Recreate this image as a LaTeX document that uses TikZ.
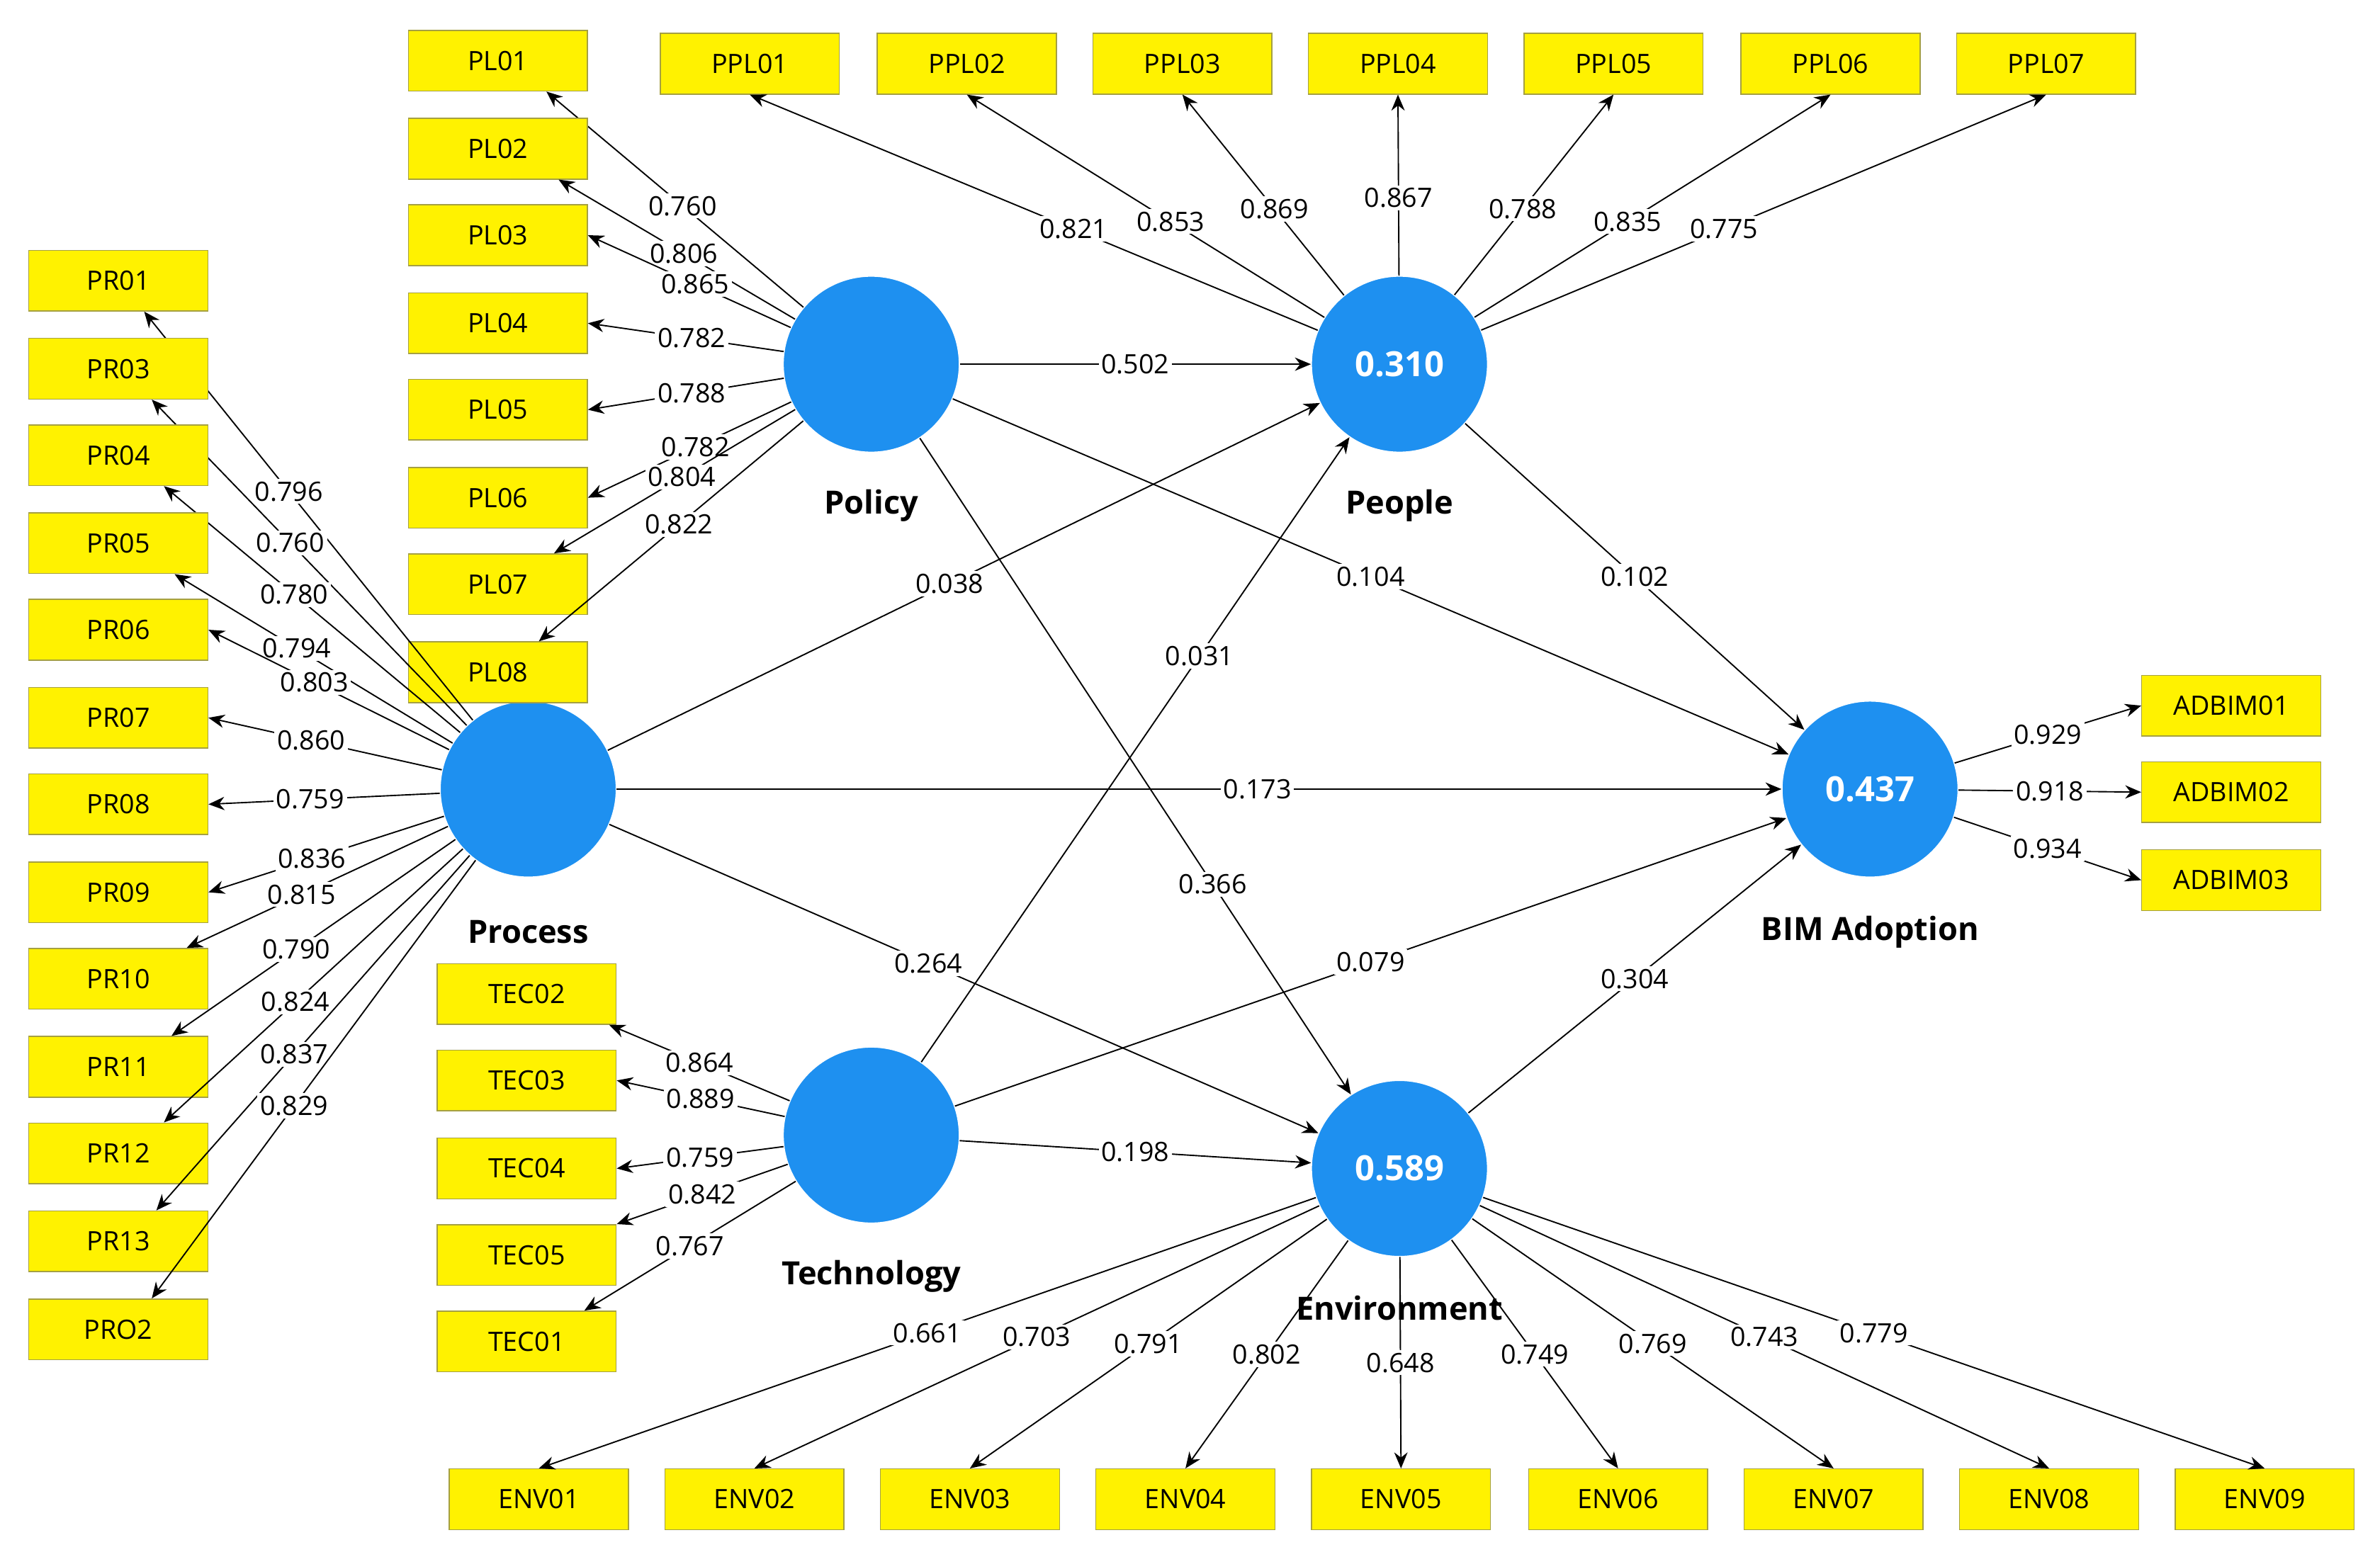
\documentclass[tikz,border=0pt]{standalone}
\usepackage{fontspec}
\setmainfont{Open Sans}
\usetikzlibrary{arrows.meta}
\definecolor{lblue}{HTML}{1E90F0}
\begin{document}
\begin{tikzpicture}[x=0.02cm,y=-0.02cm,
 box/.style={draw=yellow!60!black,line width=0.4pt,fill=yellow,minimum width=2.36cm,minimum height=0.8cm,inner sep=0pt,font=\fontsize{10}{10}\selectfont},
 lat/.style={circle,fill=lblue,draw=white,minimum size=2.32cm,inner sep=0pt,text=white,font=\bfseries\fontsize{13}{13}\selectfont},
 ttl/.style={font=\bfseries\fontsize{12}{12}\selectfont},
 ar/.style={-{Stealth[length=6pt,width=5pt]},line width=0.5pt},
 lb/.style={fill=white,inner sep=1pt,font=\fontsize{10}{10}\selectfont}]
\fill[white] (0,0) rectangle (1568,1026);
\node[lat] (pol) at (574,240) {};
\node[lat] (peo) at (922,240) {0.310};
\node[lat] (pro) at (348,520) {};
\node[lat] (tec) at (574,748) {};
\node[lat] (env) at (922,770) {0.589};
\node[lat] (bim) at (1232,520) {0.437};
\node[ttl] at (574,333) {Policy};
\node[ttl] at (922,333) {People};
\node[ttl] at (348,614) {Process};
\node[ttl] at (574,841) {Technology};
\node[ttl] at (922,862) {Environment};
\node[ttl] at (1232,614) {BIM Adoption};
% PL
\foreach \n/\y/\v/\a/\s in {01/40/0.760/south/32,02/98/0.806/south/40,03/155/0.865/east/0,04/213/0.782/east/0,05/270/0.788/east/0,06/328/0.782/east/0,07/385/0.804/north/37,08/443/0.822/north/27}{
 \node[box] (pl\n) at (328,\y) {PL\n};
 \draw[ar] (pol) -- node[lb,pos=0.47]{\v} ([xshift=\s*0.02cm]pl\n.\a);}
% PR
\foreach \n/\t/\y/\v/\a/\s in {a/PR01/185/0.796/south/17,b/PR03/243/0.760/south/22,c/PR04/300/0.780/south/30,d/PR05/358/0.794/south/37,e/PR06/415/0.803/east/0,f/PR07/473/0.860/east/0,g/PR08/530/0.759/east/0,h/PR09/588/0.836/east/0,i/PR10/645/0.815/north/45,j/PR11/703/0.790/north/35,k/PR12/760/0.824/north/30,l/PR13/818/0.837/north/25,m/PRO2/876/0.829/north/22}{
 \node[box] (pr\n) at (78,\y) {\t};
 \draw[ar] (pro) -- node[lb,pos=0.56]{\v} ([xshift=\s*0.02cm]pr\n.\a);}
% PPL
\foreach \n/\x/\v in {01/494/0.821,02/637/0.853,03/779/0.869,04/921/0.867,05/1063/0.788,06/1206/0.835,07/1348/0.775}{
 \node[box] (ppl\n) at (\x,42) {PPL\n};
 \draw[ar] (peo) -- node[lb,pos=0.43]{\v} (ppl\n.south);}
% TEC
\foreach \n/\y/\v/\a/\s in {02/655/0.864/south east/-5,03/712/0.889/east/0,04/770/0.759/east/0,05/827/0.842/north east/0,01/884/0.767/north/38}{
 \node[box] (tec\n) at (347,\y) {TEC\n};
 \draw[ar] (tec) -- node[lb,pos=0.5]{\v} ([xshift=\s*0.02cm]tec\n.\a);}
% ENV
\foreach \n/\x/\v in {01/355/0.661,02/497/0.703,03/639/0.791,04/781/0.802,05/923/0.648,06/1066/0.749,07/1208/0.769,08/1350/0.743,09/1492/0.779}{
 \node[box] (env\n) at (\x,988) {ENV\n};
 \draw[ar] (env) -- node[lb,pos=0.5]{\v} (env\n.north);}
% ADBIM
\foreach \n/\y/\v in {01/465/0.929,02/522/0.918,03/580/0.934}{
 \node[box] (ad\n) at (1470,\y) {ADBIM\n};
 \draw[ar] (bim) -- node[lb,pos=0.5]{\v} (ad\n.west);}
% structural
\draw[ar] (pol) -- node[lb,pos=0.5]{0.502} (peo);
\draw[ar] (pol) -- node[lb,pos=0.5]{0.104} (bim);
\draw[ar] (pol) -- node[lb,pos=0.68]{0.366} (env);
\draw[ar] (pro) -- node[lb,pos=0.48]{0.038} (peo);
\draw[ar] (pro) -- node[lb,pos=0.55]{0.173} (bim);
\draw[ar] (pro) -- node[lb,pos=0.45]{0.264} (env);
\draw[ar] (tec) -- node[lb,pos=0.65]{0.031} (peo);
\draw[ar] (tec) -- node[lb,pos=0.5]{0.079} (bim);
\draw[ar] (tec) -- node[lb,pos=0.5]{0.198} (env);
\draw[ar] (peo) -- node[lb,pos=0.5]{0.102} (bim);
\draw[ar] (env) -- node[lb,pos=0.5]{0.304} (bim);
\end{tikzpicture}
\end{document}
